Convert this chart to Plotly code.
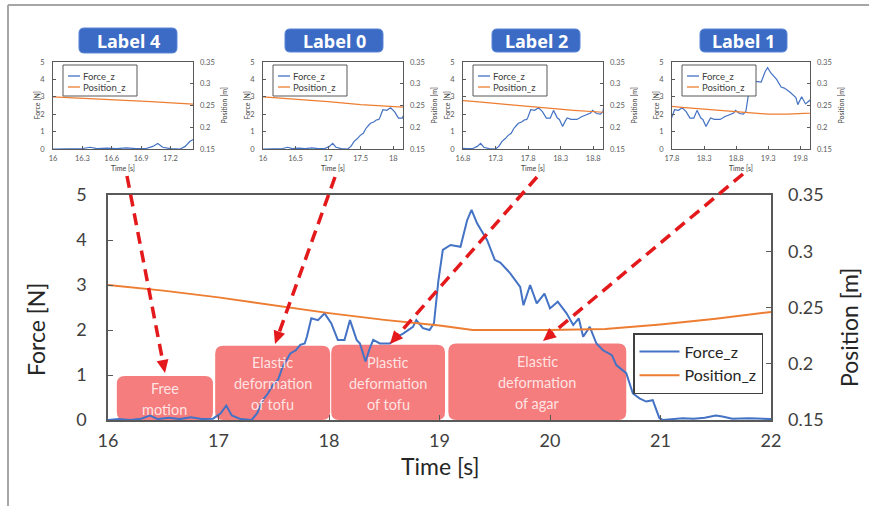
import math
import plotly.graph_objects as go

W, H = 869, 506
FONT = "Lato, 'Noto Sans', sans-serif"

# ---------------- data ----------------
time_force = [16.00, 16.10, 16.20, 16.30, 16.38, 16.45, 16.55, 16.65, 16.75, 16.85,
              16.95, 17.02, 17.07, 17.12, 17.20, 17.30, 17.35, 17.40, 17.45, 17.49,
              17.54, 17.58, 17.62, 17.65, 17.70, 17.74, 17.78, 17.80, 17.84, 17.90,
              17.96, 18.02, 18.08, 18.14, 18.19, 18.25, 18.28, 18.33, 18.37, 18.40,
              18.46, 18.55, 18.62, 18.67, 18.76, 18.79, 18.85, 18.91, 18.95, 18.99,
              19.03, 19.10, 19.19, 19.25, 19.29, 19.34, 19.43, 19.50, 19.55, 19.64,
              19.73, 19.76, 19.82, 19.88, 19.95, 20.00, 20.07, 20.15, 20.21, 20.26,
              20.30, 20.36, 20.42, 20.48, 20.56, 20.60, 20.69, 20.75, 20.81, 20.87,
              20.93, 20.99, 21.02, 21.10, 21.20, 21.30, 21.40, 21.50, 21.56, 21.65,
              21.80, 22.00]
force_z = [0.00, 0.02, 0.00, 0.03, 0.10, 0.02, 0.05, 0.02, 0.06, 0.02,
           0.03, 0.15, 0.32, 0.10, 0.02, 0.00, 0.15, 0.44, 0.60, 0.77,
           0.90, 1.18, 1.35, 1.48, 1.55, 1.67, 1.70, 1.85, 2.26, 2.22,
           2.37, 2.15, 1.78, 1.78, 2.22, 1.78, 1.70, 1.30, 1.60, 1.78,
           1.70, 1.70, 1.85, 1.92, 2.07, 2.22, 2.04, 2.00, 2.15, 3.10,
           3.78, 3.89, 3.85, 4.44, 4.67, 4.37, 4.00, 3.56, 3.50, 3.26,
           2.96, 2.55, 3.00, 2.59, 2.81, 2.48, 2.63, 2.37, 2.11, 2.26,
           1.85, 2.07, 1.70, 1.55, 1.44, 1.22, 1.04, 0.59, 0.48, 0.41,
           0.44, 0.04, 0.00, 0.02, 0.04, 0.03, 0.05, 0.10, 0.08, 0.03,
           0.04, 0.02]

time_pos = [16.0, 16.5, 17.0, 17.5, 18.0, 18.5, 19.0, 19.3, 19.6, 20.0, 20.5, 21.0, 21.5, 22.0]
position_z = [0.270, 0.265, 0.259, 0.252, 0.245, 0.239, 0.234, 0.230, 0.230, 0.230,
              0.231, 0.235, 0.240, 0.246]

series_names = ["Force_z", "Position_z"]

inset_labels = ["Label 4", "Label 0", "Label 2", "Label 1"]
inset_ranges = [[16, 17.43], [16, 18.15], [16.8, 18.95], [17.8, 19.95]]
inset_tick0 = [16, 16, 16.8, 17.8]
inset_dtick = [0.3, 0.5, 0.5, 0.5]

phase_text = ["Free<br>motion", "Elastic<br>deformation<br>of tofu",
              "Plastic<br>deformation<br>of tofu", "Elastic<br>deformation<br>of agar"]
phase_start = [16.08, 16.97, 18.02, 19.08]
phase_end = [16.95, 18.01, 19.05, 20.69]
phase_top = [0.98, 1.65, 1.67, 1.70]
phase_text_y = [0.47, 0.82, 0.82, 0.84]

BLUE = "#4472C4"
ORANGE = "#ED7D31"
RED = "#E3191C"
COLORS = [BLUE, ORANGE]

# ---------------- layout geometry (pixels) ----------------
def px(x):
    return x / W

def py(y):
    return 1 - y / H

main_box = (108, 195, 771, 420)  # left, top, right, bottom
inset_boxes = [(53, 62, 193, 149), (263, 62, 403, 149), (463, 62, 603, 149), (672, 62, 810, 149)]
label_boxes = [(79, 28, 177, 53), (285, 29, 383, 52), (492, 29, 580, 52), (700, 29, 787, 52)]
arrows = [((127, 176), (165, 373)), ((335, 177), (275, 344)),
          ((537, 177), (390, 344)), ((743, 174), (543, 341))]

fig = go.Figure()

# main traces
fig.add_trace(go.Scatter(x=time_force, y=force_z, name=series_names[0], mode="lines",
                         line=dict(color=BLUE, width=2), xaxis="x", yaxis="y"))
fig.add_trace(go.Scatter(x=time_pos, y=position_z, name=series_names[1], mode="lines",
                         line=dict(color=ORANGE, width=2), xaxis="x", yaxis="y2"))

axis_common = dict(showgrid=False, zeroline=False, showline=True, linecolor="#595959",
                   ticks="inside", tickcolor="#595959", automargin=False)

layout = dict(
    width=W, height=H, margin=dict(l=0, r=0, t=0, b=0, autoexpand=False),
    paper_bgcolor="white", plot_bgcolor="white", template="none",
    font=dict(family=FONT, color="#404040"),
    xaxis=dict(domain=[px(main_box[0]), px(main_box[2])], range=[16, 22], dtick=1, anchor="y",
               mirror=True, linewidth=1.5, ticklen=5, tickfont=dict(size=18, color="#404040"),
               ticklabelstandoff=4, **axis_common),
    yaxis=dict(domain=[py(main_box[3]), py(main_box[1])], range=[0, 5], dtick=1, anchor="x",
               mirror=True, linewidth=1.5, ticklen=5, tickfont=dict(size=18, color="#404040"),
               ticklabelstandoff=16, **axis_common),
    yaxis2=dict(overlaying="y", side="right", range=[0.15, 0.35], dtick=0.05, anchor="x",
                ticklen=5, tickfont=dict(size=18, color="#404040"), ticklabelstandoff=16,
                showgrid=False, zeroline=False, showline=False, ticks="inside",
                tickcolor="#595959", automargin=False),
    legend=dict(x=px(633), y=py(333), xanchor="left", yanchor="top", bgcolor="white",
                bordercolor="#404040", borderwidth=1.5, font=dict(size=16, color="#262626"),
                tracegroupgap=0, itemwidth=40),
)

annotations = []
shapes = []


def note(text, x, y, size, color, angle=0, family=None, xanchor="center"):
    f = dict(size=size, color=color)
    if family:
        f["family"] = family
    return dict(text=text, xref="paper", yref="paper", x=x, y=y, textangle=angle,
                showarrow=False, xanchor=xanchor, yanchor="middle", font=f)


# insets
for i, (l, t, r, b) in enumerate(inset_boxes):
    xi = i + 2
    yl = 3 + 2 * i
    yr = 4 + 2 * i
    fig.add_trace(go.Scatter(x=time_force, y=force_z, name=series_names[0], mode="lines",
                             line=dict(color=BLUE, width=1.2), xaxis="x%d" % xi,
                             yaxis="y%d" % yl, showlegend=False))
    fig.add_trace(go.Scatter(x=time_pos, y=position_z, name=series_names[1], mode="lines",
                             line=dict(color=ORANGE, width=1.2), xaxis="x%d" % xi,
                             yaxis="y%d" % yr, showlegend=False))
    layout["xaxis%d" % xi] = dict(domain=[px(l), px(r)], range=inset_ranges[i],
                                  tick0=inset_tick0[i], dtick=inset_dtick[i], anchor="y%d" % yl,
                                  mirror=True, linewidth=1, ticklen=3,
                                  tickfont=dict(size=7.5, color="#595959"), ticklabelstandoff=2,
                                  **axis_common)
    layout["yaxis%d" % yl] = dict(domain=[py(b), py(t)], range=[0, 5], dtick=1, anchor="x%d" % xi,
                                  mirror=True, linewidth=1, ticklen=3,
                                  tickfont=dict(size=7.5, color="#595959"), ticklabelstandoff=6,
                                  **axis_common)
    layout["yaxis%d" % yr] = dict(overlaying="y%d" % yl, side="right", range=[0.15, 0.35],
                                  dtick=0.05, anchor="x%d" % xi, ticklen=3,
                                  tickfont=dict(size=7.5, color="#595959"), ticklabelstandoff=6,
                                  showgrid=False, zeroline=False, showline=False, ticks="inside",
                                  tickcolor="#595959", automargin=False)
    # small legend drawn as a box with line samples
    shapes.append(dict(type="rect", xref="paper", yref="paper", x0=px(l + 10), y0=py(t + 34),
                       x1=px(l + 84), y1=py(t + 3), fillcolor="white",
                       line=dict(color="#595959", width=1)))
    for k, (nm, col) in enumerate(zip(series_names, COLORS)):
        yy = t + 14 + 11 * k
        shapes.append(dict(type="line", xref="paper", yref="paper", x0=px(l + 15), y0=py(yy),
                           x1=px(l + 27), y1=py(yy), line=dict(color=col, width=1.3)))
        annotations.append(note(nm, px(l + 28), py(yy), 9.5, "#404040", xanchor="left"))
    # inset axis titles
    annotations.append(note("Time [s]", px((l + r) / 2), py(168), 7, "#404040"))
    annotations.append(note("Force [N]", px(l - 17), py((t + b) / 2), 7, "#404040", -90))
    annotations.append(note("Position [m]", px(r + 30), py((t + b) / 2), 7, "#404040", -90))


def rounded_path(x0, y0, x1, y1, rx, ry):
    return ("M %f,%f L %f,%f Q %f,%f %f,%f L %f,%f Q %f,%f %f,%f L %f,%f Q %f,%f %f,%f "
            "L %f,%f Q %f,%f %f,%f Z") % (
        x0 + rx, y0, x1 - rx, y0, x1, y0, x1, y0 + ry, x1, y1 - ry, x1, y1, x1 - rx, y1,
        x0 + rx, y1, x0, y1, x0, y1 - ry, x0, y0 + ry, x0, y0, x0 + rx, y0)


# phase boxes (data coordinates)
rx_d = 8 * 6 / (main_box[2] - main_box[0])
ry_d = 8 * 5 / (main_box[3] - main_box[1])
LINE_GAP = 21
for s, e, top, txt, ty in zip(phase_start, phase_end, phase_top, phase_text, phase_text_y):
    shapes.append(dict(type="path", xref="x", yref="y", layer="below",
                       path=rounded_path(s, 0, e, top, rx_d, ry_d),
                       fillcolor="rgba(244,118,118,0.95)", line=dict(width=0)))
    lines = txt.split("<br>")
    nlines = len(lines)
    for j, ln in enumerate(lines):
        annotations.append(dict(text=ln, xref="x", yref="y", x=(s + e) / 2, y=ty,
                                yshift=((nlines - 1) / 2 - j) * LINE_GAP, showarrow=False,
                                xanchor="center", yanchor="middle",
                                font=dict(size=14.5, color="rgba(255,235,235,0.95)", family=FONT)))

# label boxes (paper coordinates)
for (l, t, r, b), lab in zip(label_boxes, inset_labels):
    shapes.append(dict(type="path", xref="paper", yref="paper", layer="below",
                       path=rounded_path(px(l), py(b), px(r), py(t), 5 / W, 5 / H),
                       fillcolor="#3B6BC5", line=dict(color="#5A85D6", width=1)))
    annotations.append(note("<b>%s</b>" % lab, px((l + r) / 2), py((t + b) / 2 + 1), 18,
                            "white", family="Noto Sans"))

# red dashed arrows
for (sx, sy), (tx, ty) in arrows:
    dx, dy = tx - sx, ty - sy
    n = math.hypot(dx, dy)
    ux, uy = dx / n, dy / n
    hl, hw = 13, 6
    bx, by = tx - ux * hl, ty - uy * hl
    shapes.append(dict(type="line", xref="paper", yref="paper", x0=px(sx), y0=py(sy),
                       x1=px(bx + ux * 2), y1=py(by + uy * 2),
                       line=dict(color=RED, width=3.5, dash="12px,7px")))
    pxn, pyn = -uy, ux
    shapes.append(dict(type="path", xref="paper", yref="paper",
                       path="M %f,%f L %f,%f L %f,%f Z" % (
                           px(tx), py(ty), px(bx + pxn * hw), py(by + pyn * hw),
                           px(bx - pxn * hw), py(by - pyn * hw)),
                       fillcolor=RED, line=dict(width=0)))

# main axis titles
annotations.append(note("Force [N]", px(36), py(330), 23, "#262626", -90))
annotations.append(note("Position [m]", px(849), py(328), 23, "#262626", -90))
annotations.append(note("Time [s]", px(440), py(466), 23, "#262626"))

# outer frame
shapes.append(dict(type="line", xref="paper", yref="paper", x0=px(8), y0=py(5), x1=1, y1=py(5),
                   line=dict(color="#A6A6A6", width=2)))
shapes.append(dict(type="line", xref="paper", yref="paper", x0=px(8), y0=py(5), x1=px(8), y1=0,
                   line=dict(color="#A6A6A6", width=2)))

layout["annotations"] = annotations
layout["shapes"] = shapes
fig.update_layout(**layout)
fig.write_html("out.html", config={"displayModeBar": False},
               post_script="document.body.style.margin='0';")
